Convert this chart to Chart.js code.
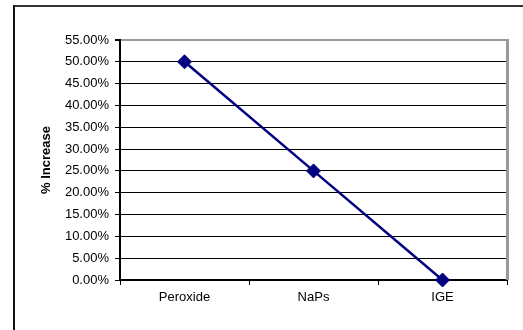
<!DOCTYPE html>
<html>
<head>
<meta charset="utf-8">
<script src="https://cdn.jsdelivr.net/npm/chart.js@4"></script>
<style>
  html, body { margin: 0; padding: 0; background: #fff; }
  #wrap { position: relative; width: 523px; height: 330px; overflow: hidden; }
  #frame {
    position: absolute; left: 13px; top: 5px; width: 600px; height: 400px;
    border-top: 2px solid #333; border-left: 2px solid #111;
  }
  canvas { position: absolute; left: 0; top: 0; }
</style>
</head>
<body>
<div id="wrap">
  <div id="frame"></div>
  <canvas id="chart" width="523" height="330"></canvas>
</div>
<script>
// data
const categories = ["Peroxide", "NaPs", "IGE"];
const increase   = [50, 25, 0];          // % increase
const yMax  = 55;
const yStep = 5;

const FONT = "'Liberation Sans', Arial, sans-serif";
const NAVY = "#000080";

// gray frame on the right side of the plot area (excel style)
const plotFrame = {
  id: "plotFrame",
  afterDatasetsDraw(chart) {
    const { ctx, chartArea: a } = chart;
    ctx.save();
    ctx.strokeStyle = "#999";
    ctx.lineWidth = 3;
    ctx.beginPath();
    ctx.moveTo(a.right + 0.5, a.top - 1);
    ctx.lineTo(a.right + 0.5, a.bottom);
    ctx.stroke();
    ctx.restore();
  }
};

new Chart(document.getElementById("chart"), {
  type: "line",
  data: {
    labels: categories,
    datasets: [{
      data: increase,
      borderColor: NAVY,
      backgroundColor: NAVY,
      borderWidth: 2.5,
      tension: 0,
      pointStyle: "rectRot",
      pointRadius: 7,
      pointBorderWidth: 1,
      pointBorderColor: NAVY,
      pointBackgroundColor: NAVY,
      clip: false
    }]
  },
  options: {
    responsive: false,
    animation: false,
    layout: { padding: { left: 0, top: 40, right: 16, bottom: 0 } },
    plugins: { legend: { display: false }, tooltip: { enabled: false } },
    scales: {
      x: {
        offset: true,
        grid: { offset: true, drawOnChartArea: false, tickLength: 5, color: "#000" },
        border: { color: "#000", width: 2 },
        ticks: { color: "#000", padding: 5, font: { family: FONT, size: 13 } },
        afterFit(s) { s.height = 50; }
      },
      y: {
        min: 0,
        max: yMax,
        grid: {
          color: c => (c.tick && c.tick.value === yMax) ? "#999" : "#000",
          lineWidth: c => (c.tick && c.tick.value === yMax) ? 2 : 1,
          tickColor: "#000",
          tickLength: 5
        },
        border: { color: "#000", width: 2 },
        ticks: {
          stepSize: yStep,
          color: "#000",
          padding: 6,
          font: { family: FONT, size: 13 },
          callback: v => v.toFixed(2) + "%"
        },
        title: {
          display: true,
          text: "% Increase",
          color: "#000",
          font: { family: FONT, size: 13, weight: "bold" },
          padding: { top: 39, bottom: 0 }
        },
        afterFit(s) { s.width = 120; }
      }
    }
  },
  plugins: [plotFrame]
});
</script>
</body>
</html>
